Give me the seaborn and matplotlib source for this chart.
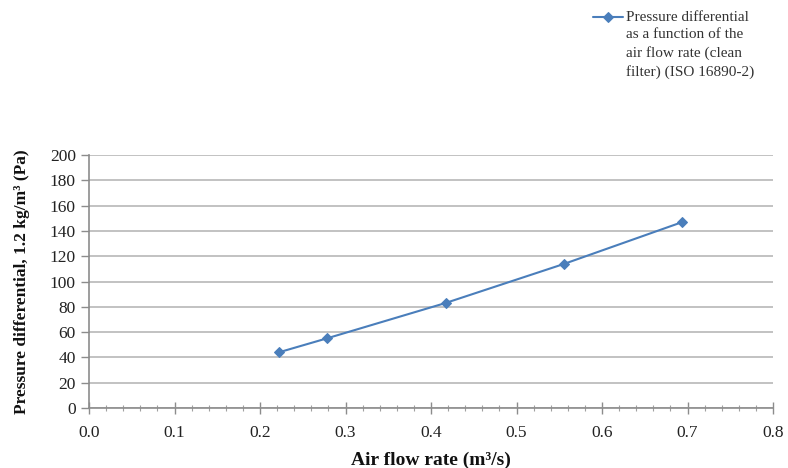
import matplotlib
matplotlib.use("Agg")
import matplotlib.pyplot as plt
from matplotlib.ticker import MultipleLocator, FormatStrFormatter
from matplotlib.legend_handler import HandlerLine2D
import seaborn as sns
import pandas as pd

flow_rate = [0.222, 0.278, 0.417, 0.556, 0.694]
pressure = [44, 55, 83, 114, 147]
series_label = ("Pressure differential\nas a function of the\n"
                "air flow rate (clean\nfilter) (ISO 16890-2)")

df = pd.DataFrame({"flow": flow_rate, "dp": pressure})

sns.set_theme(style="white")
plt.rcParams["font.family"] = ["Liberation Serif", "DejaVu Serif"]

fig = plt.figure(figsize=(7.88, 4.68), dpi=100)
ax = fig.add_axes([89 / 788, 1 - 408 / 468, (773 - 89) / 788, (408 - 155) / 468])

sns.lineplot(data=df, x="flow", y="dp", ax=ax, color="#4a7ebb", marker="D",
             markersize=5, markeredgecolor="#4a7ebb", linewidth=1.5,
             label=series_label)

ax.set_xlim(0, 0.8)
ax.set_ylim(0, 200)
ax.xaxis.set_major_locator(MultipleLocator(0.1))
ax.xaxis.set_minor_locator(MultipleLocator(0.02))
ax.yaxis.set_major_locator(MultipleLocator(20))
ax.xaxis.set_major_formatter(FormatStrFormatter("%.1f"))

ax.grid(axis="y", color="#b8b8b8", linewidth=1.2)
ax.set_axisbelow(True)
for s in ["top", "right"]:
    ax.spines[s].set_visible(False)
for s in ["left", "bottom"]:
    ax.spines[s].set_color("#8c8c8c")
    ax.spines[s].set_linewidth(1.2)

ax.tick_params(axis="x", which="major", direction="inout", length=8, width=1,
               color="#8c8c8c", labelsize=12.5, labelcolor="#222222", pad=8,
               bottom=True)
ax.tick_params(axis="x", which="minor", direction="inout", length=4, width=0.8,
               color="#a0a0a0", bottom=True)
ax.tick_params(axis="y", which="major", direction="out", length=6, width=1,
               color="#8c8c8c", labelsize=12.5, labelcolor="#222222", left=True)

ax.set_xlabel("Air flow rate (m³/s)", fontsize=14, fontweight="bold",
              color="#111111", labelpad=8)
ax.set_ylabel("Pressure differential, 1.2 kg/m³ (Pa)", fontsize=12.5,
              fontweight="bold", color="#111111", labelpad=14)


class TopHandler(HandlerLine2D):
    def create_artists(self, legend, orig_handle, xdescent, ydescent,
                       width, height, fontsize, trans):
        arts = super().create_artists(legend, orig_handle, xdescent, ydescent,
                                      width, height, fontsize, trans)
        for a in arts:
            y = a.get_ydata()
            a.set_ydata([v + 1.8 * fontsize for v in y])
        return arts


handles, labels = ax.get_legend_handles_labels()
leg = ax.legend(handles, labels, loc="upper left",
                bbox_to_anchor=(591 / 788, 1 - 9 / 468),
                bbox_transform=fig.transFigure, frameon=False, fontsize=11,
                handlelength=2.0, handletextpad=0.2, borderpad=0.1,
                borderaxespad=0.0,
                handler_map={handles[0]: TopHandler()})
for t in leg.get_texts():
    t.set_color("#333333")
    t.set_linespacing(1.45)

fig.savefig("out.png", dpi=100)
